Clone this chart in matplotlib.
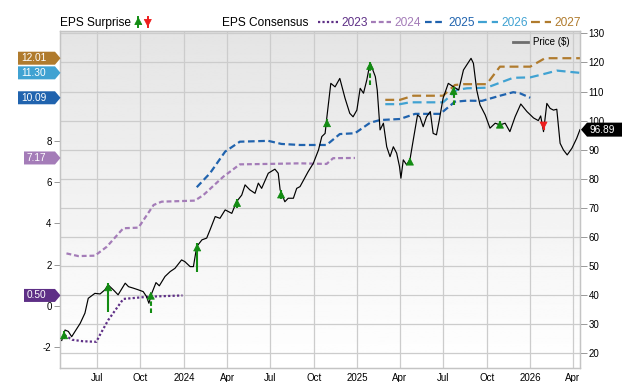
import numpy as np
import matplotlib
matplotlib.use('Agg')
import matplotlib.pyplot as plt
from matplotlib.patches import Polygon
from matplotlib.lines import Line2D
from matplotlib.transforms import IdentityTransform
import pandas as pd

plt.rcParams['font.family'] = ['Liberation Sans', 'DejaVu Sans']
plt.rcParams['axes.unicode_minus'] = False

# ---------------- data ----------------
price_dates = ['2023-04-18','2023-04-25','2023-05-02','2023-05-09','2023-05-27','2023-06-06','2023-06-13','2023-06-27','2023-07-08','2023-07-18',
               '2023-07-25','2023-08-05','2023-08-15','2023-08-30','2023-09-06','2023-09-16','2023-09-27','2023-10-07','2023-10-14','2023-10-19',
               '2023-10-25','2023-11-03','2023-11-10','2023-11-22','2023-12-03','2023-12-13','2023-12-27','2024-01-03','2024-01-14','2024-01-21',
               '2024-01-28','2024-02-08','2024-02-18','2024-02-25','2024-03-07','2024-03-17','2024-03-28','2024-04-11','2024-04-21','2024-05-02',
               '2024-05-09','2024-05-19','2024-05-30','2024-06-06','2024-06-13','2024-06-27','2024-07-11','2024-07-18','2024-07-22','2024-08-01',
               '2024-08-08','2024-08-19','2024-08-26','2024-09-02','2024-09-19','2024-09-30','2024-10-11','2024-10-18','2024-10-25','2024-10-28',
               '2024-11-06','2024-11-15','2024-11-25','2024-12-06','2024-12-16','2024-12-23','2024-12-31','2025-01-07','2025-01-14','2025-01-21',
               '2025-01-28','2025-02-08','2025-02-12','2025-02-18','2025-02-25','2025-03-04','2025-03-11','2025-03-18','2025-03-25','2025-03-31',
               '2025-04-03','2025-04-08','2025-04-15','2025-04-22','2025-04-29','2025-05-08','2025-05-13','2025-05-20','2025-05-27','2025-06-04',
               '2025-06-10','2025-06-17','2025-06-23','2025-07-01','2025-07-12','2025-07-23','2025-08-03','2025-08-13','2025-08-29','2025-09-03',
               '2025-09-10','2025-09-17','2025-09-28','2025-10-08','2025-10-19','2025-10-29','2025-11-09','2025-11-19','2025-11-30','2025-12-12',
               '2025-12-25','2026-01-08','2026-01-18','2026-01-23','2026-01-29','2026-02-05','2026-02-12','2026-02-19','2026-02-26','2026-03-05',
               '2026-03-12','2026-03-20','2026-03-30','2026-04-09','2026-04-16']
price_vals = [24.4,28.0,27.5,25.7,30.3,33.8,38.9,40.6,40.4,41.8,
              43.5,41.8,40.1,44.1,42.9,42.4,41.8,41.2,39.5,37.2,
              40.6,44.3,43.2,46.4,48.1,49.2,52.1,51.5,49.8,49.8,
              56.7,59.0,59.6,62.4,67.0,66.4,69.3,68.1,72.1,74.4,
              77.9,76.2,75.0,78.5,76.7,81.9,83.3,81.9,76.2,72.1,
              73.3,73.3,76.7,77.3,82.4,85.3,89.9,94.5,95.6,100.2,
              112.8,111.6,114.5,107.7,102.5,101.3,103.6,111.1,109.4,114.0,
              119.9,115.1,110.5,96.8,99.1,91.0,87.6,91.0,88.8,84.2,
              80.2,86.5,84.8,86.5,93.3,101.9,101.3,97.9,101.3,103.1,
              95.6,95.1,100.2,107.7,112.8,111.6,110.5,117.4,121.4,119.7,
              110.5,105.4,101.9,97.4,99.1,98.5,99.1,96.2,101.3,105.7,
              103.1,100.9,100.0,101.6,96.2,105.9,104.2,103.6,103.9,92.2,
              89.9,88.2,90.5,93.9,96.89]

eps2023_dates = ['2023-04-24','2023-05-10','2023-06-01','2023-06-30','2023-07-08','2023-07-25','2023-08-26','2023-10-19','2023-12-29']
eps2023 = [-1.42,-1.65,-1.72,-1.75,-1.40,-0.70,0.33,0.44,0.50]

eps2024_dates = ['2023-04-28','2023-05-23','2023-06-27','2023-07-22','2023-08-26','2023-09-27','2023-10-29','2023-11-15','2024-01-24',
                 '2024-02-11','2024-03-24','2024-04-28','2024-06-24','2024-09-02','2024-10-28','2024-11-11','2024-12-27']
eps2024 = [2.54,2.41,2.43,2.86,3.76,3.79,4.89,5.05,5.10,5.37,6.26,6.86,6.88,6.91,6.88,7.16,7.17]

eps2025_dates = ['2024-01-28','2024-02-25','2024-03-28','2024-04-28','2024-06-27','2024-07-25','2024-09-02','2024-10-28','2024-11-25',
                 '2024-12-27','2025-01-28','2025-02-18','2025-04-01','2025-05-03','2025-06-25','2025-07-26','2025-08-20','2025-09-21',
                 '2025-10-29','2025-11-26','2025-12-10','2026-01-01']
eps2025 = [5.75,6.43,7.48,7.96,8.00,7.85,7.80,7.80,8.33,8.37,8.88,9.01,9.06,9.31,9.31,9.90,9.95,9.94,10.19,10.36,10.31,10.09]

eps2026_dates = ['2025-03-01','2025-04-01','2025-04-22','2025-07-01','2025-07-30','2025-08-20','2025-10-01','2025-10-29','2025-11-26',
                 '2026-01-01','2026-02-05','2026-02-26','2026-04-02','2026-04-16']
eps2026 = [9.78,9.78,9.87,9.87,10.47,10.55,10.58,10.82,11.06,11.08,11.28,11.41,11.33,11.30]

eps2027_dates = ['2025-03-01','2025-04-01','2025-04-29','2025-07-01','2025-07-26','2025-08-13','2025-10-01','2025-10-29','2026-01-01',
                 '2026-02-01','2026-04-16']
eps2027 = [9.99,9.99,10.19,10.19,10.71,10.75,10.75,11.60,11.60,12.01,12.01]

surprise_dates = ['2023-04-23','2023-07-25','2023-10-23','2024-01-29','2024-04-22','2024-07-24',
                  '2024-10-29','2025-01-28','2025-04-22','2025-07-23','2025-10-29','2026-01-29']
surprise_from = [25.0,34.3,33.8,48.1,70.0,73.1,97.8,112.2,84.7,105.4,97.4,99.6]
surprise_to = [27.6,44.1,41.2,57.8,73.1,76.0,100.5,120.2,87.3,111.6,100.0,96.9]
surprise_dashed = [False,False,True,False,False,False,True,True,False,True,False,False]

series_names = ['2023','2024','2025','2026','2027']
series_colors = ['#5e2f86','#a47cb8','#2063ae','#40a2d2','#b07b2d']
series_dashes = [(1,1),(2.2,1.3),(3,1.6),(4,2.2),(4,2.2)]

x_start, x_end = '2023-04-15', '2026-04-16'

# ---------------- figure ----------------
W, H = 640, 382
fig = plt.figure(figsize=(W/100, H/100), dpi=100)
fig.patch.set_facecolor('white')
ax = fig.add_axes([60.3/W, (H-368)/H, (580-60.3)/W, (368-31)/H])
axr = ax.twinx()

def d(lst):
    return pd.to_datetime(lst)

# background gradient (gray at top -> white at bottom)
grad = np.linspace(0.895, 1.0, 256).reshape(-1, 1)
ax.imshow(grad, extent=[0, 1, 0, 1], transform=ax.transAxes, aspect='auto',
          cmap='gray', vmin=0, vmax=1, zorder=0, origin='upper')

ax.set_xlim(pd.Timestamp(x_start), pd.Timestamp(x_end))
ax.set_ylim(-3.02, 13.33)
axr.set_ylim(14.94, 130.8)

qticks = pd.date_range('2023-07-01', '2026-04-01', freq='QS-JAN')
ax.set_xticks(qticks)
ax.set_xticklabels([str(t.year) if t.month == 1 else t.strftime('%b') for t in qticks])

ax.set_yticks([-2, 0, 2, 4, 6, 8])
axr.set_yticks(np.arange(20, 131, 10))

grid_c = '#cccccc'
for t in qticks:
    ax.axvline(t, color=grid_c, lw=0.9, zorder=0.5)
for t in axr.get_yticks():
    ydisp = axr.transData.transform((0, t))[1]
    yl = ax.transData.inverted().transform((0, ydisp))[1]
    ax.axhline(yl, color=grid_c, lw=0.9, zorder=0.5)

for sp in list(ax.spines.values()) + list(axr.spines.values()):
    sp.set_color('#c4c4c4')
    sp.set_linewidth(0.9)

ax.tick_params(axis='x', length=0, pad=3.5, labelsize=7, colors='black')
ax.tick_params(axis='y', length=4.3, width=0.7, color='#999999', pad=2, labelsize=7)
axr.tick_params(axis='y', length=5, width=0.7, color='#999999', pad=1.2, labelsize=7)

# EPS consensus lines
eps_dates = [eps2023_dates, eps2024_dates, eps2025_dates, eps2026_dates, eps2027_dates]
eps_vals = [eps2023, eps2024, eps2025, eps2026, eps2027]
for dt, vals, c, ds in zip(eps_dates, eps_vals, series_colors, series_dashes):
    ax.plot(d(dt), vals, color=c, lw=1.6, dashes=ds, zorder=3, dash_capstyle='butt')

# price
axr.plot(d(price_dates), price_vals, color='black', lw=0.85, zorder=3)

# surprise arrows
for dt, a, b, dash in zip(d(surprise_dates), surprise_from, surprise_to, surprise_dashed):
    up = b > a
    c = '#138c13' if up else '#ee1c1c'
    if dash:
        axr.plot([dt, dt], [a, b], color=c, lw=1.5, zorder=4, dashes=(2.2, 1.2))
    else:
        axr.plot([dt, dt], [a, b], color=c, lw=1.5, zorder=4, solid_capstyle='butt')
    axr.annotate('', xy=(dt, b), xytext=(0, -4.8 if up else 4.8), textcoords='offset points',
                 arrowprops=dict(arrowstyle='-|>,head_length=0.48,head_width=0.25', mutation_scale=10,
                                 color=c, lw=0.6, shrinkA=0, shrinkB=0), zorder=5)

# ---------------- header legend ----------------
def fy(y):
    return (H - y) / H

fs_leg = 8.6
fig.text(60.5/W, fy(26), 'EPS Surprise', fontsize=fs_leg, va='baseline', ha='left', color='black')
for xa, up, c in [(138.3, True, '#138c13'), (147.8, False, '#ee1c1c')]:
    y0, y1 = (H-27, H-17) if up else (H-17, H-27)
    fig.add_artist(Line2D([xa, xa], [y0, y1], transform=IdentityTransform(), color=c, lw=1.4))
    ax.annotate('', xy=(xa, y1), xytext=(xa, y1 + (-6 if up else 6)), xycoords='figure pixels',
                textcoords='figure pixels',
                arrowprops=dict(arrowstyle='-|>,head_length=0.48,head_width=0.25', mutation_scale=10,
                                color=c, lw=0.6, shrinkA=0, shrinkB=0), annotation_clip=False)
fig.text(222/W, fy(26), 'EPS Consensus', fontsize=fs_leg, va='baseline', ha='left', color='black')
leg_line_x = [318, 371, 425, 478, 531]
for lx, name, c, ds in zip(leg_line_x, series_names, series_colors, series_dashes):
    fig.add_artist(Line2D([lx, lx + 20], [H-21.5, H-21.5], transform=IdentityTransform(), color=c,
                          lw=1.6, dashes=ds, dash_capstyle='butt'))
    fig.text((lx + 23.5)/W, fy(26), name, fontsize=fs_leg, va='baseline', ha='left', color=c)

# price legend inside plot
fig.add_artist(Line2D([513, 528], [H-42, H-42], transform=IdentityTransform(), color='#6e6e6e', lw=2, zorder=6))
fig.text(533/W, fy(42), 'Price ($)', fontsize=7, va='center', ha='left', color='black', zorder=6)

# ---------------- value badges ----------------
def left_badge(value, color, text, left):
    y = ax.transData.transform((0, value))[1]
    h = 6.5
    pts = [(left, y-h), (55, y-h), (60.5, y), (55, y+h), (left, y+h)]
    fig.add_artist(Polygon(pts, closed=True, transform=IdentityTransform(), facecolor=color,
                           edgecolor='none', zorder=10))
    fig.text(left + 3, y, text, transform=IdentityTransform(), color='white', fontsize=7.3,
             va='center', ha='left', zorder=11)

last_vals = [eps2023[-1], eps2024[-1], eps2025[-1], eps2026[-1], eps2027[-1]]
for v, c in zip(last_vals, series_colors):
    txt = f'{v:.2f}'
    left_badge(v, c, txt, 18 if len(txt) >= 5 else 24)

yv = axr.transData.transform((0, price_vals[-1]))[1]
h = 7
pts = [(581, yv), (587, yv+h), (622, yv+h), (622, yv-h), (587, yv-h)]
fig.add_artist(Polygon(pts, closed=True, transform=IdentityTransform(), facecolor='black',
                       edgecolor='none', zorder=10))
fig.text(590, yv, f'{price_vals[-1]:.2f}', transform=IdentityTransform(), color='white',
         fontsize=7.3, va='center', ha='left', zorder=11)

ax.set_zorder(0)
axr.set_zorder(1)
axr.patch.set_visible(False)

fig.savefig('out.png', dpi=100, facecolor='white')
